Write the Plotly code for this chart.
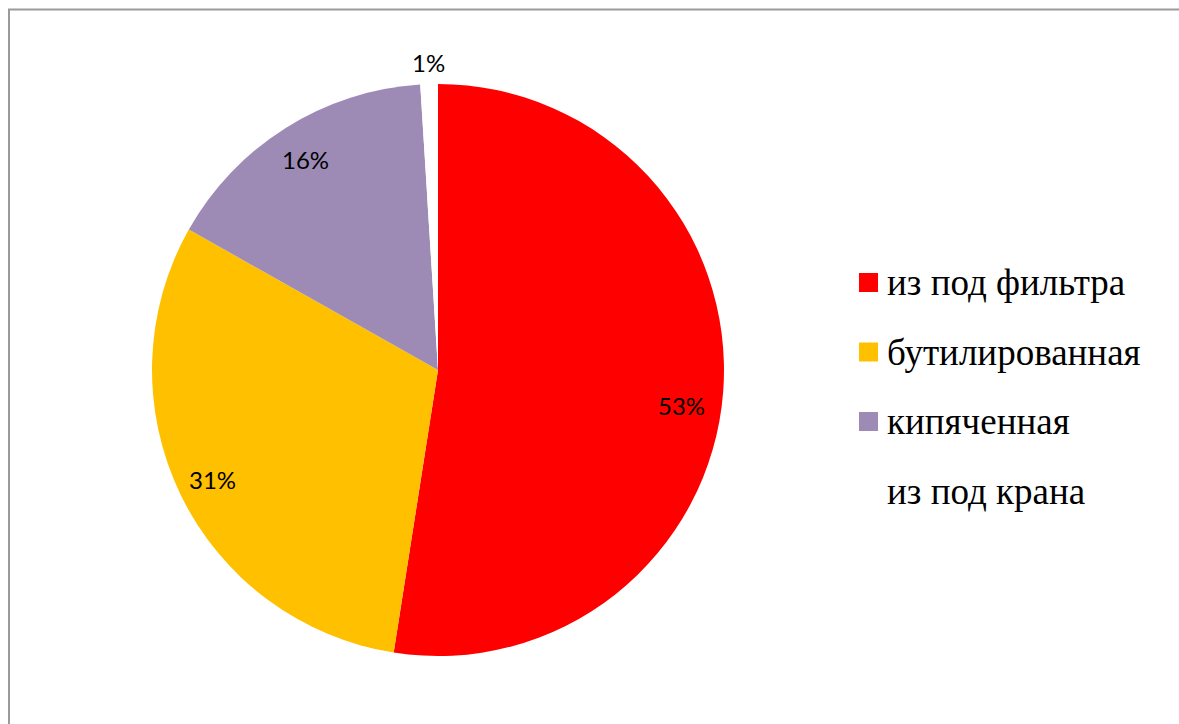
import math
import plotly.graph_objects as go

categories = ["из под фильтра", "бутилированная", "кипяченная", "из под крана"]
values = [53, 31, 16, 1]
colors = ["#FF0000", "#FFC000", "#9D8BB6", "#FFFFFF"]
label_radius = [0.855, 0.875, 0.87, 1.075]
label_nudge_y = [17, 0, 0, 0]

W, H = 1179, 724
cx, cy, R = 438, 370, 286

fig = go.Figure()
fig.add_trace(go.Pie(
    labels=categories,
    values=values,
    marker=dict(colors=colors, line=dict(color="#FFFFFF", width=0)),
    sort=False,
    direction="clockwise",
    rotation=0,
    textinfo="none",
    hoverinfo="label+value",
    showlegend=False,
    domain=dict(x=[(cx - R) / W, (cx + R) / W], y=[1 - (cy + R) / H, 1 - (cy - R) / H]),
))

# data labels at each slice's mid-angle
total = sum(values)
cum = 0
for v, rf, ny in zip(values, label_radius, label_nudge_y):
    mid = (cum + v / 2) / total * 2 * math.pi
    cum += v
    px = cx + math.sin(mid) * R * rf
    py = cy - math.cos(mid) * R * rf + ny
    fig.add_annotation(
        x=px / W, y=1 - py / H, xref="paper", yref="paper",
        text=f"{v}%", showarrow=False, xanchor="center", yanchor="middle",
        font=dict(family="Lato, Open Sans, sans-serif", size=24, color="#000000"),
    )

# legend
leg_x_marker, leg_x_text, leg_y0, leg_step, msize = 859, 885, 282.5, 69.5, 19
for i, (cat, col) in enumerate(zip(categories, colors)):
    yc = leg_y0 + i * leg_step
    fig.add_shape(type="rect", xref="paper", yref="paper",
                  x0=leg_x_marker / W, x1=(leg_x_marker + msize) / W,
                  y0=1 - (yc + msize / 2) / H, y1=1 - (yc - msize / 2) / H,
                  fillcolor=col, line=dict(width=0))
    fig.add_annotation(
        x=leg_x_text / W, y=1 - yc / H, xref="paper", yref="paper",
        text=cat, showarrow=False, xanchor="left", yanchor="middle",
        font=dict(family="Liberation Serif, Times New Roman, serif", size=37, color="#000000"),
    )

# chart frame
fig.add_shape(type="rect", xref="paper", yref="paper",
              x0=9 / W, x1=1.02, y0=-0.02, y1=1 - 9.5 / H,
              line=dict(color="#9A9A9A", width=2), fillcolor="rgba(0,0,0,0)")

fig.update_layout(
    width=W, height=H,
    margin=dict(l=0, r=0, t=0, b=0),
    paper_bgcolor="#FFFFFF", plot_bgcolor="#FFFFFF",
)

fig.write_html("out.html")
